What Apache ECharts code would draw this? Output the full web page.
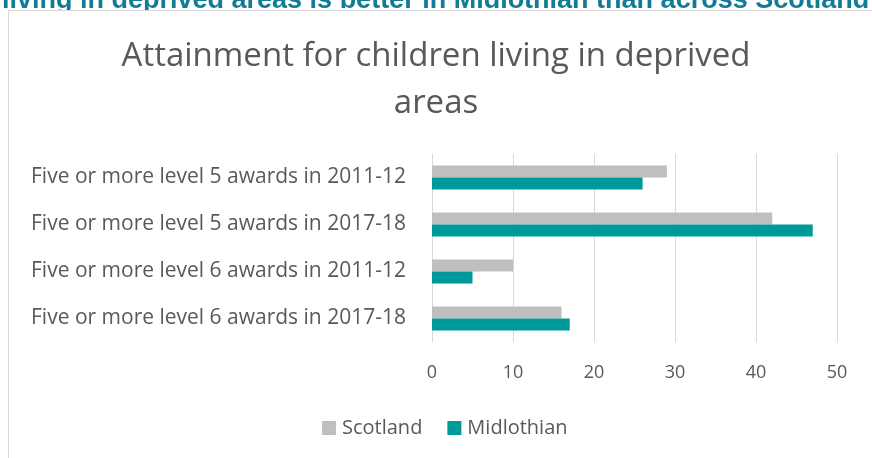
<!DOCTYPE html>
<html><head><meta charset="utf-8">
<script src="https://cdn.jsdelivr.net/npm/echarts@6/dist/echarts.min.js"></script>
<style>html,body{margin:0;padding:0;background:#fff;}#c{width:872px;height:458px;}</style>
</head><body><div id="c"></div>
<script>
const categories = ['Five or more level 5 awards in 2011-12','Five or more level 5 awards in 2017-18','Five or more level 6 awards in 2011-12','Five or more level 6 awards in 2017-18'];
const scotland = [29, 42, 10, 16];
const midlothian = [26, 47, 5, 17];
const xTicks = [0, 10, 20, 30, 40, 50];

const chart = echarts.init(document.getElementById('c'));
chart.setOption({
  animation: false,
  backgroundColor: '#fff',
  graphic: [
    {type:'text', left: 2, top: -13, z: 1, style:{text:'living in deprived areas is better in Midlothian than across Scotland', font:'bold 27px "Liberation Sans", Arial', fill:'#127b96'}},
    {type:'rect', z: 2, shape:{x:8.5, y:10.5, width:900, height:500}, style:{fill:'#fff', stroke:'#d9d9d9', lineWidth:1}}
  ],
  title: {
    text: 'Attainment for children living in deprived\nareas',
    left: 'center', top: 28, z: 10,
    textStyle: {fontFamily:'"Open Sans"', fontWeight: 'normal', fontSize: 33, color:'#595959', lineHeight: 47}
  },
  legend: {
    data: ['Scotland','Midlothian'],
    top: 413, left: 317, z: 10,
    itemWidth: 14, itemHeight: 14, itemGap: 25,
    icon: 'rect',
    textStyle: {fontFamily:'"Open Sans"', fontSize: 20, color:'#595959', padding: [0, 0, 0, 1]}
  },
  grid: {left: 432, right: 35, top: 154, bottom: 116, z: 10},
  xAxis: {
    type: 'value', min: 0, max: 50, interval: 10, z: 10,
    axisLine: {show:false}, axisTick:{show:false},
    splitLine: {lineStyle:{color:'#d9d9d9', width:1}},
    axisLabel: {fontFamily:'"Open Sans"', fontSize: 18, color:'#595959', margin: 22,
      formatter: v => xTicks.includes(v) ? String(v) : ''}
  },
  yAxis: {
    type: 'category', data: categories, inverse: true, z: 10,
    axisLine: {show:true, lineStyle:{color:'#d9d9d9'}}, axisTick:{show:false},
    axisLabel: {fontFamily:'"Open Sans"', fontSize: 21, color:'#595959', margin: 26}
  },
  series: [
    {name:'Scotland', type:'bar', z: 10, data: scotland, barWidth: 12, barGap: '0%', itemStyle:{color:'#bfbfbf'}},
    {name:'Midlothian', type:'bar', z: 10, data: midlothian, barWidth: 12, barGap: '0%', itemStyle:{color:'#009999'}}
  ]
});
</script></body></html>
